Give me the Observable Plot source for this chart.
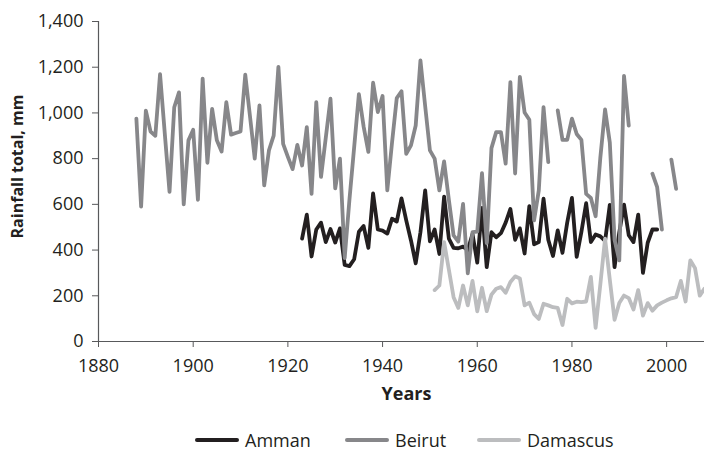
<!DOCTYPE html>
<html>
<head>
<meta charset="utf-8">
<script src="https://cdn.jsdelivr.net/npm/d3@7"></script>
<script src="https://cdn.jsdelivr.net/npm/@observablehq/plot@0.6"></script>
<style>
  html, body { margin: 0; padding: 0; background: #fff; }
  #chart { width: 704px; height: 452px; overflow: hidden; font-family: "Open Sans", sans-serif; color: #231f20; }
  .legend { position: relative; margin-top: 18px; height: 24px; font-size: 18px; line-height: 24px; }
  .legend .item { position: absolute; top: 0; display: flex; align-items: center; height: 24px; }
  .legend .sw { display: inline-block; width: 44px; height: 4px; border-radius: 2px; margin-right: 6px; }
</style>
</head>
<body>
<div id="chart"></div>
<script>
// ---- data (annual rainfall totals, mm) ----
const seriesNames = ["Amman", "Beirut", "Damascus"];
const seriesColors = ["#231f20", "#87878a", "#bcbdbf"];

const ammanStart = 1923;
const ammanValues = [450, 555, 372, 490, 520, 435, 492, 433, 495, 335,
  330, 360, 480, 505, 410, 648, 490, 485, 472, 537,
  525, 626, 530, 442, 342, 478, 661, 438, 490, 383,
  634, 450, 410, 408, 415, 400, 470, 345, 585, 325,
  478, 456, 474, 520, 580, 445, 495, 385, 592, 425,
  435, 625, 445, 374, 486, 388, 520, 628, 370, 480,
  605, 435, 468, 460, 440, 598, 325, 478, 599, 465,
  435, 555, 300, 432, 490, 490];

const beirutStart = 1888;
const beirutValues = [975, 590, 1010, 918, 900, 1170, 910, 655, 1025, 1090,
  600, 880, 926, 620, 1150, 782, 1018, 880, 831, 1047,
  905, 912, 919, 1167, 985, 800, 1033, 683, 836, 901,
  1201, 865, 808, 754, 860, 770, 938, 646, 1047, 720,
  890, 1062, 670, 800, 365, 620, 850, 1082, 940, 830,
  1132, 1004, 1074, 661, 870, 1065, 1095, 821, 858, 945,
  1230, 1030, 836, 800, 661, 788, 620, 464, 437, 602,
  298, 478, 481, 737, 430, 846, 916, 916, 778, 1135,
  735, 1158, 1002, 970, 530, 661, 1025, 785, null, 1011,
  882, 882, 975, 908, 882, 646, 628, 548, 805, 1015,
  870, 445, 355, 1162, 945, null, null, null, null, 734,
  675, 490, null, 796, 668];

const damascusStart = 1951;
const damascusValues = [225, 245, 435, 315, 194, 147, 245, 158, 265, 132,
  235, 133, 205, 231, 238, 213, 260, 285, 276, 158,
  170, 120, 99, 165, 158, 150, 147, 72, 187, 167,
  174, 172, 175, 283, 60, 250, 450, 270, 95, 168,
  201, 190, 140, 225, 113, 168, 135, 158, 170, 180,
  189, 194, 265, 175, 355, 321, 201, 231];

const xTicks = [1880, 1900, 1920, 1940, 1960, 1980, 2000];
const yTicks = [0, 200, 400, 600, 800, 1000, 1200, 1400];
const legendLeft = [195, 345, 477];

// ---- build tidy table ----
function toRows(name, start, values) {
  return values.map((v, i) => ({ city: name, year: start + i, value: v }));
}
const rows = [
  ...toRows("Amman", ammanStart, ammanValues),
  ...toRows("Beirut", beirutStart, beirutValues),
  ...toRows("Damascus", damascusStart, damascusValues)
];

const axisGray = "#58595b";

const plot = Plot.plot({
  width: 704,
  height: 410,
  marginTop: 21,
  marginBottom: 69,
  marginLeft: 98,
  marginRight: 0,
  style: { fontFamily: "Open Sans, sans-serif", fontSize: "18px", color: "#231f20", background: "#fff" },
  x: { domain: [1880, 2008] },
  y: { domain: [0, 1400] },
  color: { domain: seriesNames, range: seriesColors },
  marks: [
    Plot.axisY({ ticks: yTicks, tickFormat: d3.format(","), tickSize: 6, tickPadding: 9, label: null, stroke: axisGray }),
    Plot.axisX({ ticks: xTicks, tickFormat: d => String(d), tickSize: 6, tickPadding: 12, label: null, stroke: axisGray }),
    Plot.ruleX([1880], { stroke: axisGray, strokeWidth: 1.2 }),
    Plot.ruleY([0], { stroke: axisGray, strokeWidth: 1.2 }),
    ...seriesNames.map(name => Plot.line(rows.filter(r => r.city === name), {
      x: "year", y: "value", stroke: "city",
      strokeWidth: 3.8, strokeLinejoin: "round", strokeLinecap: "round"
    })),
    Plot.text(["Rainfall total, mm"], {
      text: d => d, frameAnchor: "left", rotate: -90, dx: -81, dy: -15,
      textAnchor: "middle", lineAnchor: "middle", fontWeight: "bold", fontSize: 16, fill: "#231f20"
    }),
    Plot.text(["Years"], {
      text: d => d, frameAnchor: "bottom", dx: 5, dy: 53,
      textAnchor: "middle", lineAnchor: "middle", fontWeight: "bold", fontSize: 18, fill: "#231f20"
    })
  ]
});

const chart = document.getElementById("chart");
chart.appendChild(plot);

const legend = document.createElement("div");
legend.className = "legend";
seriesNames.forEach((name, i) => {
  const item = document.createElement("div");
  item.className = "item";
  item.style.left = legendLeft[i] + "px";
  const sw = document.createElement("span");
  sw.className = "sw";
  sw.style.background = seriesColors[i];
  const label = document.createElement("span");
  label.textContent = name;
  item.appendChild(sw);
  item.appendChild(label);
  legend.appendChild(item);
});
chart.appendChild(legend);
</script>
</body>
</html>
